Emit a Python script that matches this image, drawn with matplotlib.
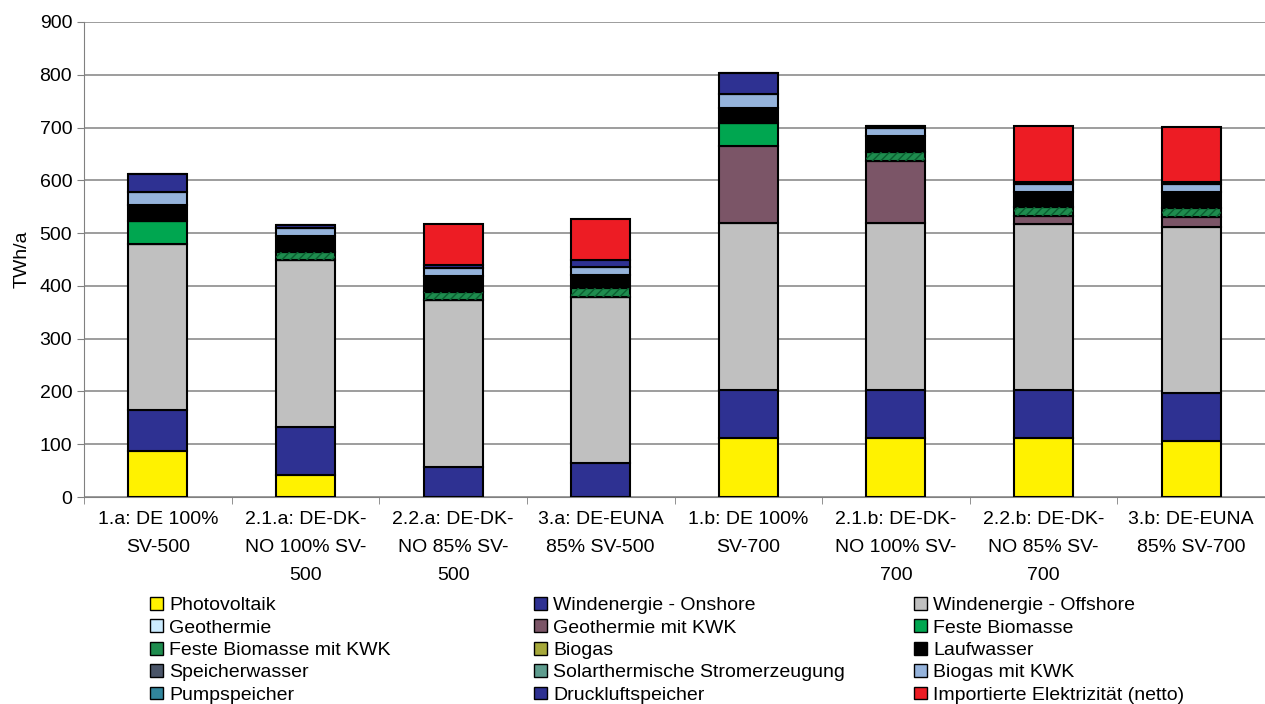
import numpy as np
import matplotlib.pyplot as plt
from matplotlib.patches import Patch

plt.rcParams['font.family'] = ['Liberation Sans', 'DejaVu Sans']

szenarien = ['1.a: DE 100%\nSV-500', '2.1.a: DE-DK-\nNO 100% SV-\n500', '2.2.a: DE-DK-\nNO 85% SV-\n500',
             '3.a: DE-EUNA\n85% SV-500', '1.b: DE 100%\nSV-700', '2.1.b: DE-DK-\nNO 100% SV-\n700',
             '2.2.b: DE-DK-\nNO 85% SV-\n700', '3.b: DE-EUNA\n85% SV-700']

# TWh/a, von unten nach oben gestapelt
photovoltaik = [87, 42, 0, 0, 112, 112, 112, 106]
wind_onshore = [78, 91, 57, 64, 91, 91, 91, 91]
wind_offshore = [315, 316, 316, 315, 316, 316, 314, 315]
geothermie = [0, 0, 0, 0, 0, 0, 0, 0]
geothermie_kwk = [0, 0, 0, 0, 146, 118, 16, 19]
feste_biomasse = [43, 0, 0, 0, 44, 0, 0, 0]
feste_biomasse_kwk = [0, 15, 16, 17, 0, 17, 16, 17]
biogas = [0, 0, 0, 0, 0, 0, 0, 0]
laufwasser = [30, 31, 30, 25, 28, 30, 29, 30]
speicherwasser = [0, 0, 0, 0, 0, 0, 0, 0]
solarthermie = [0, 0, 0, 0, 0, 0, 0, 0]
biogas_kwk = [25, 15, 15, 15, 27, 15, 15, 15]
pumpspeicher = [0, 0, 0, 0, 0, 0, 0, 0]
druckluftspeicher = [34, 6, 6, 13, 40, 4, 4, 4]
import_netto = [0, 0, 77, 78, 0, 0, 106, 104]

serien = [
    ('Photovoltaik', photovoltaik, '#FFF200'),
    ('Windenergie - Onshore', wind_onshore, '#2E3192'),
    ('Windenergie - Offshore', wind_offshore, '#C0C0C0'),
    ('Geothermie', geothermie, '#CCECFF'),
    ('Geothermie mit KWK', geothermie_kwk, '#7B5567'),
    ('Feste Biomasse', feste_biomasse, '#00A650'),
    ('Feste Biomasse mit KWK', feste_biomasse_kwk, '#1E8C4E'),
    ('Biogas', biogas, '#A6A83A'),
    ('Laufwasser', laufwasser, '#000000'),
    ('Speicherwasser', speicherwasser, '#4A5568'),
    ('Solarthermische Stromerzeugung', solarthermie, '#5E9C8E'),
    ('Biogas mit KWK', biogas_kwk, '#95B3DB'),
    ('Pumpspeicher', pumpspeicher, '#31859C'),
    ('Druckluftspeicher', druckluftspeicher, '#2E3192'),
    ('Importierte Elektrizität (netto)', import_netto, '#ED1C24'),
]

fig = plt.figure(figsize=(12.65, 7.04), dpi=100)
ax = fig.add_axes([84 / 1265, 1 - 497 / 704, 1 - 84 / 1265, 475 / 704])

x = np.arange(len(szenarien))
unten = np.zeros(len(szenarien))
handles = []
for name, werte, farbe in serien:
    werte = np.array(werte, dtype=float)
    ax.bar(x, werte, 0.4, bottom=unten, color=farbe, edgecolor='black', linewidth=1.5, zorder=3)
    if name == 'Feste Biomasse mit KWK':
        ax.bar(x, werte, 0.4, bottom=unten, color='none', edgecolor='#0A5E30', hatch='////',
               linewidth=0, zorder=4)
    unten += werte
    handles.append(Patch(facecolor=farbe, edgecolor='black', linewidth=1))

ax.set_xlim(-0.5, len(szenarien) - 0.5)
ax.set_ylim(0, 900)
ax.set_yticks(range(0, 901, 100))
ax.yaxis.grid(True, color='#8C8C8C', linewidth=1.2, zorder=0)
ax.set_xticks(x)
ax.set_xticklabels(szenarien, fontsize=14, linespacing=1.85)
ax.set_xticks(np.arange(-0.5, len(szenarien), 1), minor=True)
ax.tick_params(axis='x', which='major', length=0, pad=10)
ax.tick_params(axis='x', which='minor', length=5, color='#808080')
ax.tick_params(axis='y', labelsize=14, length=5, color='#808080')
ax.set_ylabel('TWh/a', fontsize=14, labelpad=6)
for s in ['top', 'right']:
    ax.spines[s].set_visible(False)
ax.spines['left'].set_color('#808080')
ax.spines['bottom'].set_color('#808080')

spalten_x = [150 / 1265, 534 / 1265, 914 / 1265]
for k in range(3):
    idx = list(range(k, len(serien), 3))
    fig.legend([handles[i] for i in idx], [serien[i][0] for i in idx], loc='upper left',
               bbox_to_anchor=(spalten_x[k], 1 - 597 / 704), frameon=False, fontsize=14,
               handlelength=0.65, handleheight=0.65, handletextpad=0.35, labelspacing=0.26,
               borderaxespad=0, borderpad=0)

fig.savefig('out.png', dpi=100)
